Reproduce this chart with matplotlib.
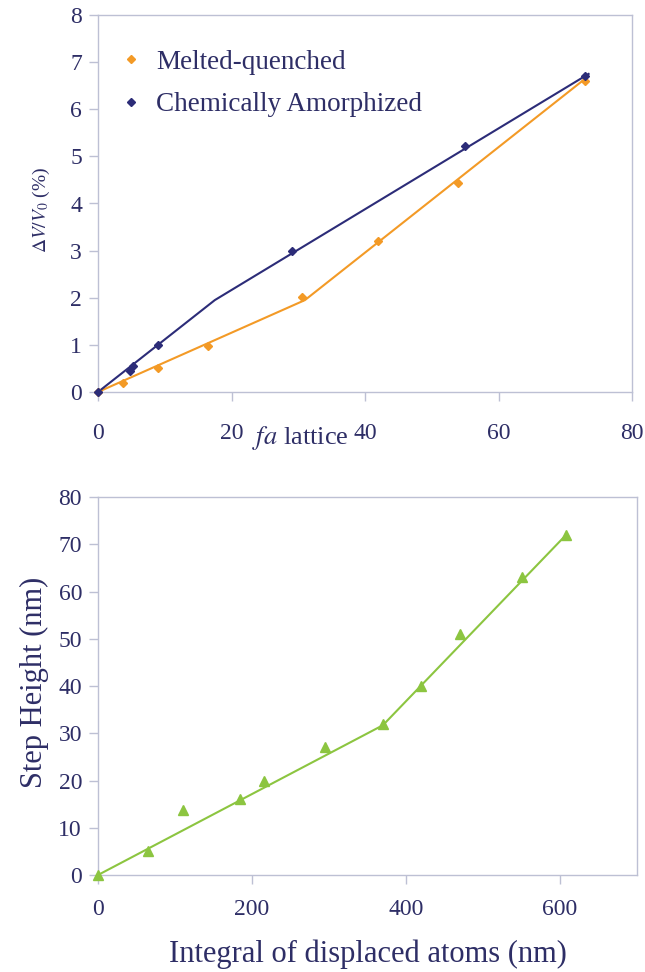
import numpy as np
import matplotlib
matplotlib.use("Agg")
import matplotlib.pyplot as plt

# top panel: volume change vs fa lattice
mq_x = [0, 3.7, 9, 16.5, 30.5, 42, 54, 73]
mq_y = [0, 0.2, 0.5, 0.97, 2.02, 3.2, 4.43, 6.6]
mq_fit_x = [0, 31, 73]
mq_fit_y = [0, 1.95, 6.65]

ca_x = [0, 4.8, 5.3, 9, 29, 55, 73]
ca_y = [0, 0.45, 0.55, 1.0, 3.0, 5.22, 6.7]
ca_fit_x = [0, 17.5, 73.5]
ca_fit_y = [0, 1.95, 6.75]

# bottom panel: step height vs integral of displaced atoms
sh_x = [0, 65, 110, 185, 215, 295, 370, 420, 470, 550, 608]
sh_y = [0, 5, 13.7, 16, 20, 27, 32, 40, 51, 63, 72]
sh_fit_x = [0, 370, 608]
sh_fit_y = [0, 31.7, 72]

top_xticks = [0, 20, 40, 60, 80]
top_yticks = [0, 1, 2, 3, 4, 5, 6, 7, 8]
bot_xticks = [0, 200, 400, 600]
bot_yticks = [0, 10, 20, 30, 40, 50, 60, 70, 80]

orange = "#F39A26"
navy = "#2C2C78"
green = "#8CC540"
txt = "#2E2E66"
frame = "#BDC0D4"

plt.rcParams["font.family"] = ["Liberation Serif", "DejaVu Serif"]
plt.rcParams["mathtext.fontset"] = "stix"

W, H = 645, 972
fig = plt.figure(figsize=(W / 100, H / 100), dpi=100)

ax1 = fig.add_axes([98 / W, 1 - 392 / H, (632 - 98) / W, (392 - 15) / H])
ax2 = fig.add_axes([98 / W, 1 - 875 / H, (637 - 98) / W, (875 - 497) / H])

for ax in (ax1, ax2):
    for s in ax.spines.values():
        s.set_color(frame)
        s.set_linewidth(1.0)
    ax.tick_params(colors=frame, labelcolor=txt, length=6.5, width=1.0)

# top
ax1.plot(mq_fit_x, mq_fit_y, color=orange, lw=1.5, zorder=2)
ax1.plot(ca_fit_x, ca_fit_y, color=navy, lw=1.5, zorder=2)
ax1.plot(mq_x, mq_y, ls="none", marker="D", ms=4.2, color=orange,
         label="Melted-quenched", zorder=3, clip_on=False)
ax1.plot(ca_x, ca_y, ls="none", marker="D", ms=4.2, color=navy,
         label="Chemically Amorphized", zorder=3, clip_on=False)
ax1.set_xlim(0, 80)
ax1.set_ylim(0, 8)
ax1.set_xticks(top_xticks)
ax1.set_yticks(top_yticks)
ax1.tick_params(axis="x", labelsize=17, pad=15.5)
ax1.tick_params(axis="y", labelsize=17, pad=5)
leg = ax1.legend(loc="upper left", bbox_to_anchor=(0.003, 0.972), frameon=False,
                 fontsize=19.5, handlelength=0.5, handletextpad=0.7,
                 labelspacing=0.64, markerscale=1.0)
for t in leg.get_texts():
    t.set_color(txt)
fig.text(41 / W, 1 - 210 / H, r"$\Delta V/V_0$ (%)", color=txt, fontsize=14,
         rotation=90, ha="center", va="center")
fig.text(300 / W, 1 - 438 / H, r"$fa$ lattice", color=txt, fontsize=19,
         ha="center", va="center")

# bottom
ax2.plot(sh_fit_x, sh_fit_y, color=green, lw=1.5, zorder=2)
ax2.plot(sh_x, sh_y, ls="none", marker="^", ms=6.5, color=green, zorder=3,
         clip_on=False)
ax2.set_xlim(0, 700)
ax2.set_ylim(0, 80)
ax2.set_xticks(bot_xticks)
ax2.set_yticks(bot_yticks)
ax2.tick_params(axis="x", labelsize=17, pad=11)
ax2.tick_params(axis="y", labelsize=17, pad=5)
ax2.set_ylabel("Step Height (nm)", color=txt, fontsize=22, va="center")
ax2.yaxis.set_label_coords(-(98 - 34) / 539, 0.51)
ax2.set_xlabel("Integral of displaced atoms (nm)", color=txt, fontsize=22,
               va="center")
ax2.xaxis.set_label_coords(0.5, -(954 - 875) / 378)

fig.savefig("out.png", dpi=100)
